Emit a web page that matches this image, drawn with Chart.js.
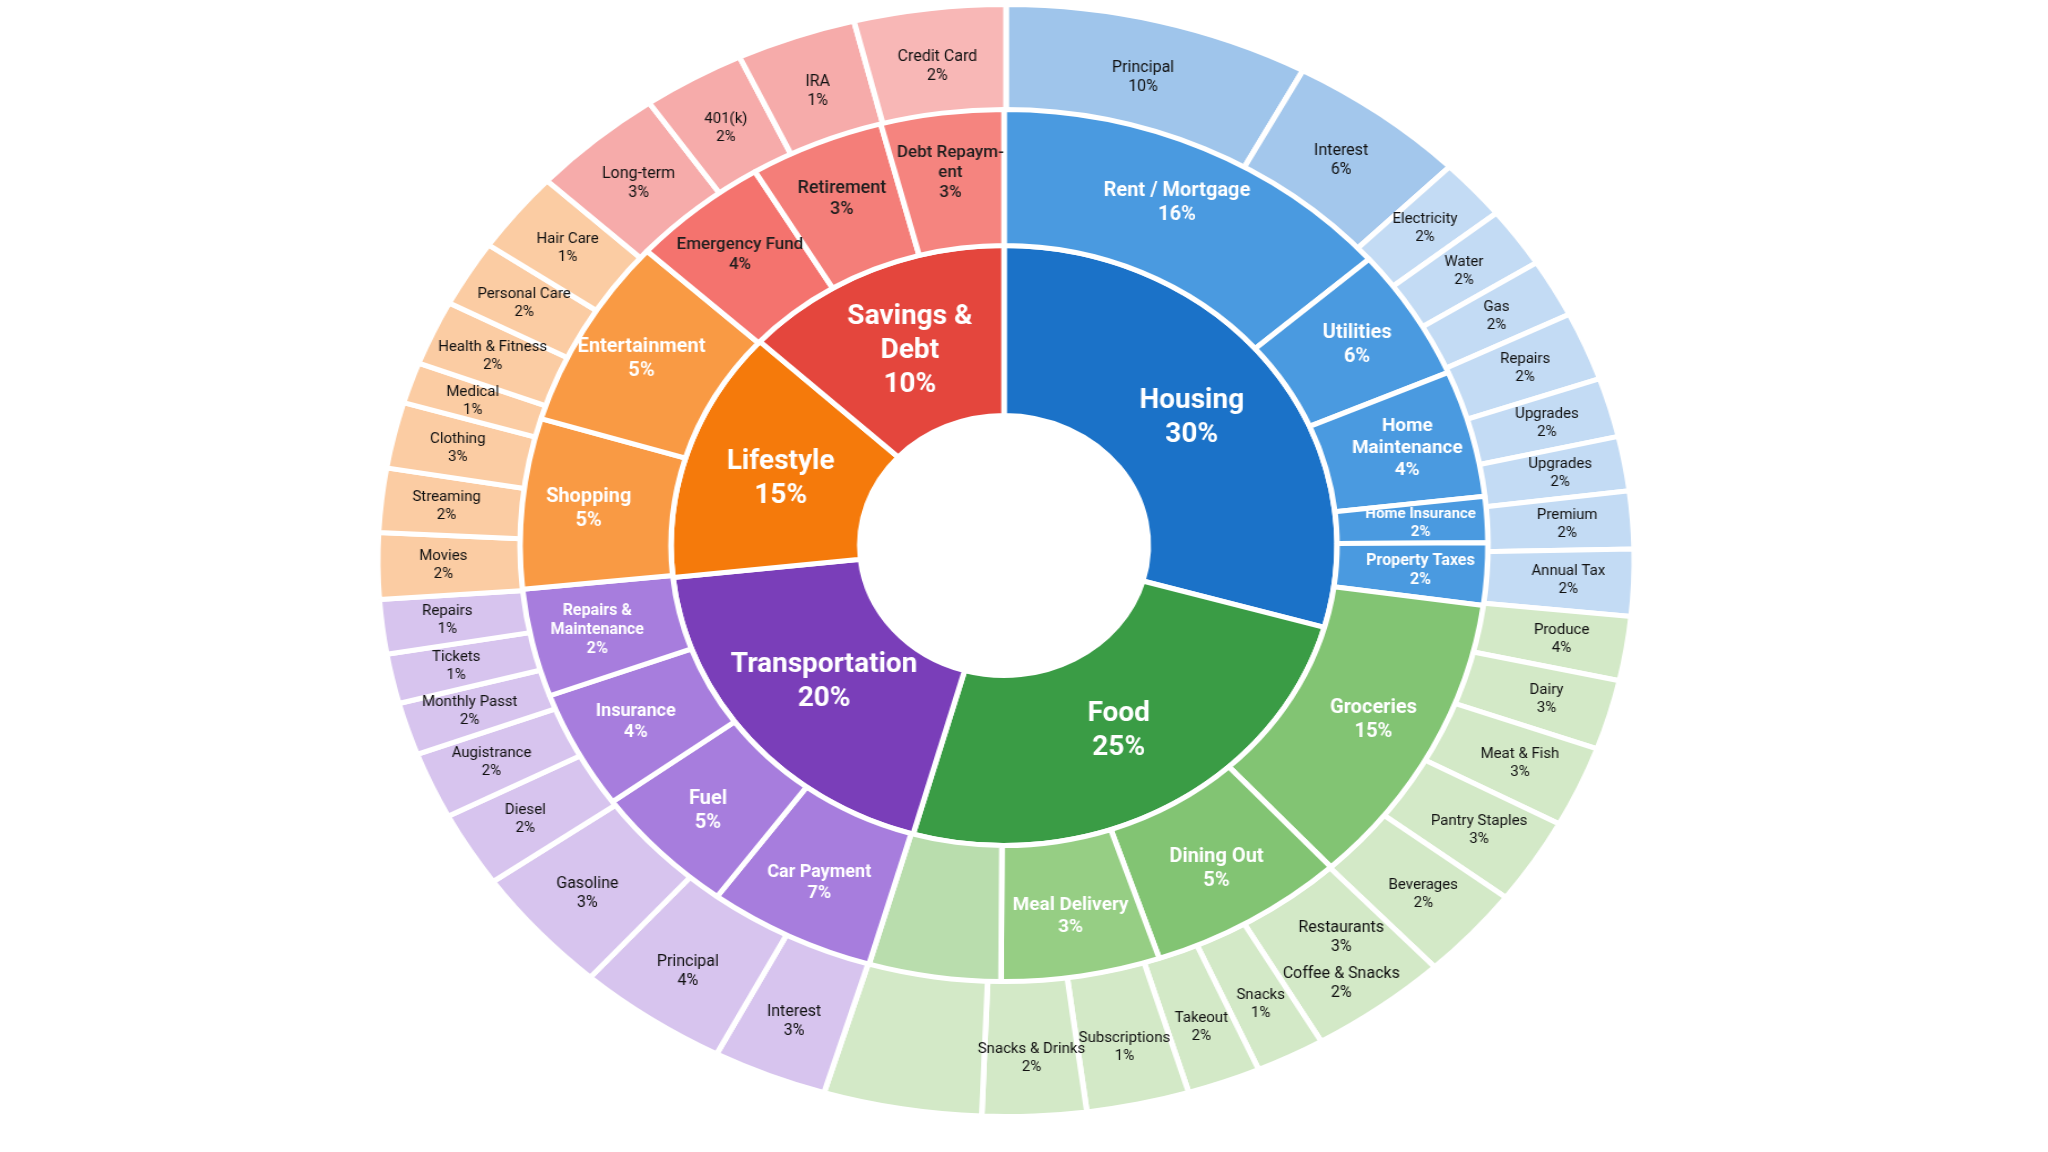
<!DOCTYPE html>
<html><head><meta charset="utf-8">
<script src="https://cdn.jsdelivr.net/npm/chart.js@4/dist/chart.umd.min.js"></script>
<style>
html,body{margin:0;padding:0;background:#fff;overflow:hidden;width:2048px;height:1152px;}
.wrap{position:absolute;transform-origin:50% 50%;}
#wOuter{left:406px;top:1.5px;width:1200px;height:1117px;transform:scaleX(1.13);}
#wInner{left:554px;top:106.5px;width:900px;height:877px;transform:scaleX(1.11);}
</style></head><body>
<div class="wrap" id="wOuter"><canvas id="cOuter" width="1200" height="1117"></canvas></div>
<div class="wrap" id="wInner"><canvas id="cInner" width="900" height="877"></canvas></div>
<script>
// ---------- DATA (angular share of each ring; printed labels as shown) ----------
const groups     = ['Housing','Food','Transportation','Lifestyle','Savings & Debt'];
const groupPct   = ['30%','25%','20%','15%','10%'];
const groupShare = [29.4, 25.0, 18.9, 13.6, 13.1];

const midLabels = ['Rent / Mortgage','Utilities','Home Maintenance','Home Insurance','Property Taxes',
                   'Groceries','Dining Out','Meal Delivery','',
                   'Car Payment','Fuel','Insurance','Repairs & Maintenance',
                   'Shopping','Entertainment',
                   'Emergency Fund','Retirement','Debt Repayment'];
const midPct    = ['16%','6%','4%','2%','2%',
                   '15%','5%','3%','',
                   '7%','5%','4%','2%',
                   '5%','5%',
                   '4%','3%','3%'];
const midShare  = [13.6,4.9,4.7,1.7,2.3,
                   11.0,6.6,5.3,4.4,
                   5.6,4.9,4.4,4.0,
                   6.3,7.1,
                   4.6,4.5,4.1];
const midParent = [0,0,0,0,0, 1,1,1,1, 2,2,2,2, 3,3, 4,4,4];

const outerLabels = ['Principal','Interest','Electricity','Water','Gas','Repairs','Upgrades','Upgrades','Premium','Annual Tax',
                     'Produce','Dairy','Meat & Fish','Pantry Staples','Beverages','Restaurants','Snacks','Takeout','Subscriptions','Snacks & Drinks','',
                     'Interest','Principal','Gasoline','Diesel','Augistrance','Monthly Passt','Tickets','Repairs',
                     'Movies','Streaming','Clothing','Medical','Health & Fitness','Personal Care','Hair Care',
                     'Long-term','401(k)','IRA','Credit Card'];
const outerPct    = ['10%','6%','2%','2%','2%','2%','2%','2%','2%','2%',
                     '4%','3%','3%','3%','2%','3%','1%','2%','1%','2%','',
                     '3%','4%','3%','2%','2%','2%','1%','1%',
                     '2%','2%','3%','1%','2%','2%','1%',
                     '3%','2%','1%','2%'];
const outerShare  = [7.83,4.64,1.78,1.75,1.69,2.0,1.72,1.58,1.67,1.94,
                     1.86,2.03,2.36,2.5,2.69,3.58,1.78,1.89,2.64,2.67,4.06,
                     2.94,3.89,3.69,2.19,1.94,1.53,1.44,1.58,
                     1.92,1.86,1.92,1.19,1.89,1.94,2.36,
                     3.42,2.64,3.08,3.89];
const outerParent = [0,0,0,0,0,0,0,0,0,0, 1,1,1,1,1,1,1,1,1,1,1, 2,2,2,2,2,2,2,2, 3,3,3,3,3,3,3, 4,4,4,4];
const outerExtraLabel = {15: 'Coffee & Snacks'};
const outerExtraPct   = {15: '2%'};

// ---------- STYLE ----------
const innerColors = ['#1b72c8','#3a9c45','#7a3eb9','#f57a0b','#e4463d'];
const midBase     = ['#4a9ae0','#82c473','#a77ddd','#f99a44','#f4736e'];
const midOverride = {7:'#96ce84', 8:'#b9ddad', 16:'#f47e79', 17:'#f5847f'};
const outerBase   = ['#c3dbf4','#d3e9c7','#d7c4ee','#fbcca3','#f6abaa'];
const outerOverride = {0:'#9fc5eb', 1:'#a3c7ec', 39:'#f8b7b6'};
const wrapMap = {'Home Maintenance':['Home','Maintenance'],'Repairs & Maintenance':['Repairs &','Maintenance'],
                 'Debt Repayment':['Debt Repaym-','ent'],'Savings & Debt':['Savings &','Debt']};
const midFontSize = {'Home Insurance':15,'Property Taxes':16,'Repairs & Maintenance':16,'Emergency Fund':17,
                     'Retirement':18,'Debt Repayment':17,'Home Maintenance':19,'Meal Delivery':19,'Car Payment':18,'Insurance':18};
const FONT = 'Roboto, "Noto Sans", sans-serif';

const midColors = midShare.map((v,i)=> midOverride[i] || midBase[midParent[i]]);
const outerColors = outerShare.map((v,i)=> outerOverride[i] || outerBase[outerParent[i]]);

function linesFor(label, pct){ if(!label) return []; return (wrapMap[label]||[label]).concat(pct?[pct]:[]); }

function styleFor(kind, label, i, span){
  if(kind==='inner') return {size:28, weight:'bold', color:'#ffffff', lh:34};
  if(kind==='mid'){
    const size = midFontSize[label] || 20, par = midParent[i];
    return {size, weight: par===4?'500':'bold', color: par===4?'#1e1e1e':'#ffffff', lh:Math.round(size*1.18)};
  }
  const size = span>=10 ? 16 : 15;
  return {size, weight:'normal', color:'#111111', lh:Math.round(size*1.2)};
}

const ringLabels = {
  id:'ringLabels',
  afterDatasetsDraw(chart, args, opts){
    const ctx = chart.ctx, SX = opts.sx;
    opts.rings.forEach(r=>{
      const meta = chart.getDatasetMeta(r.ds);
      meta.data.forEach((arc,i)=>{
        const lines = linesFor(r.labels[i], r.pct[i]);
        if(!lines.length) return;
        const p = arc.getProps(['x','y','startAngle','endAngle','innerRadius','outerRadius'], true);
        const a = (p.startAngle+p.endAngle)/2;
        const rr = (p.innerRadius+p.outerRadius)/2 + r.off;
        const px = p.x + Math.cos(a)*rr, py = p.y + Math.sin(a)*rr;
        const st = styleFor(r.kind, r.labels[i], i, (p.endAngle-p.startAngle)*180/Math.PI);
        ctx.save();
        ctx.translate(px,py); ctx.scale(1/SX,1);
        ctx.fillStyle=st.color; ctx.font=st.weight+' '+st.size+'px '+FONT;
        ctx.textAlign='center'; ctx.textBaseline='middle';
        let rows = lines.slice();
        let gap = 0;
        if(r.kind==='outer' && outerExtraLabel[i]){ rows = rows.concat([outerExtraLabel[i], outerExtraPct[i]]); gap = 8; }
        const total = (rows.length-1)*st.lh + gap;
        rows.forEach((t,k)=> ctx.fillText(t, 0, -total/2 + k*st.lh + (k>=2?gap:0)));
        ctx.restore();
      });
    });
  }
};

const common = {responsive:false, animation:false, layout:{padding:0}};

// outer ring (its inner part tucks under the middle ring)
new Chart(document.getElementById('cOuter'), {
  type:'doughnut',
  data:{labels: outerLabels, datasets:[
    {data:outerShare, backgroundColor:outerColors, borderColor:'#ffffff', borderWidth:5}
  ]},
  options:Object.assign({}, common, {cutout:420,
    plugins:{legend:{display:false}, tooltip:{enabled:false},
      ringLabels:{sx:1.13, rings:[{ds:0, kind:'outer', labels:outerLabels, pct:outerPct, off:10}]}}}),
  plugins:[ringLabels]
});

// middle + inner rings
new Chart(document.getElementById('cInner'), {
  type:'doughnut',
  data:{labels: midLabels, datasets:[
    {data:midShare,   backgroundColor:midColors,   borderColor:'#ffffff', borderWidth:5, weight:136},
    {data:groupShare, backgroundColor:innerColors, borderColor:'#ffffff', borderWidth:5, weight:170}
  ]},
  options:Object.assign({}, common, {cutout:130,
    plugins:{legend:{display:false}, tooltip:{enabled:false},
      ringLabels:{sx:1.11, rings:[
        {ds:1, kind:'inner', labels:groups, pct:groupPct, off:-3},
        {ds:0, kind:'mid', labels:midLabels, pct:midPct, off:8}
      ]}}}),
  plugins:[ringLabels]
});
</script>
</body></html>
